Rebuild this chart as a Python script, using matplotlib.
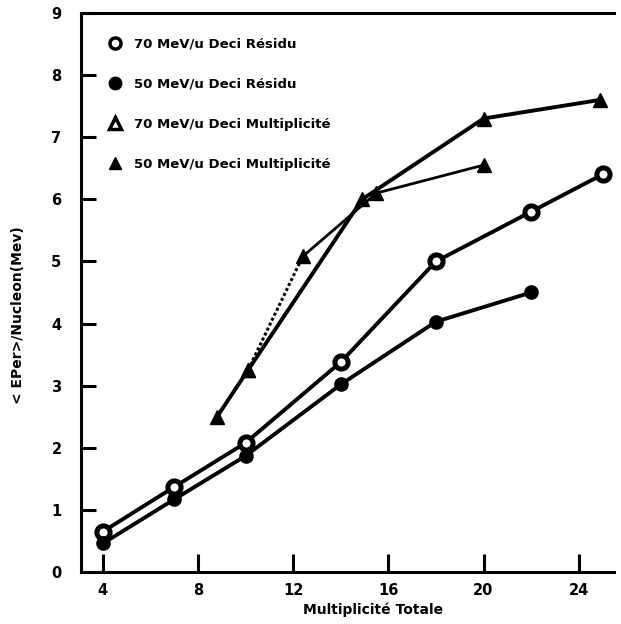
import matplotlib
matplotlib.use("Agg")
import matplotlib.pyplot as plt
from matplotlib.lines import Line2D

# Données
x_res70 = [4, 7, 10, 14, 18, 22, 25]
y_res70 = [0.65, 1.37, 2.08, 3.38, 5.0, 5.8, 6.4]

x_res50 = [4, 7, 10, 14, 18, 22]
y_res50 = [0.46, 1.17, 1.87, 3.02, 4.03, 4.5]

x_mul70 = [10.1, 12.4, 15.5, 20.0]
y_mul70 = [3.25, 5.08, 6.1, 6.55]

x_mul50 = [8.8, 10.1, 14.9, 20.0, 24.9]
y_mul50 = [2.5, 3.25, 6.0, 7.3, 7.6]

labels = ["70 MeV/u Deci Résidu", "50 MeV/u Deci Résidu",
          "70 MeV/u Deci Multiplicité", "50 MeV/u Deci Multiplicité"]
xticks = [4, 8, 12, 16, 20, 24]
yticks = [0, 1, 2, 3, 4, 5, 6, 7, 8, 9]

fig = plt.figure(figsize=(6.21, 6.24), dpi=100)
ax = fig.add_axes([0.1304, 0.0833, 0.859, 0.896])

# Courbes résidu
ax.plot(x_res70, y_res70, color="black", lw=2.8, marker="o", ms=9.5,
        mfc="white", mec="black", mew=3.6, zorder=3)
ax.plot(x_res50, y_res50, color="black", lw=2.8, marker="o", ms=9.5,
        mfc="black", mec="black", zorder=3)

# Courbes multiplicité
ax.plot(x_mul70[:2], y_mul70[:2], color="black", lw=2.2, ls=(0, (1, 0.8)), zorder=2)
ax.plot(x_mul70[1:], y_mul70[1:], color="black", lw=2.0, zorder=2)
ax.plot(x_mul70, y_mul70, ls="none", marker="^", ms=10, mfc="black", mec="black", zorder=3)
ax.plot(x_mul50, y_mul50, color="black", lw=2.8, marker="^", ms=10,
        mfc="black", mec="black", zorder=3)

ax.set_xlim(3.08, 25.5)
ax.set_ylim(0, 9)
ax.set_xticks(xticks)
ax.set_yticks(yticks)
ax.set_xticklabels([str(t) for t in xticks], fontsize=10.5, fontweight="heavy")
ax.set_yticklabels([str(t) for t in yticks], fontsize=10.5, fontweight="heavy")
ax.tick_params(axis="x", direction="in", length=13, width=2.2, pad=8)
ax.tick_params(axis="y", direction="in", length=11, width=2.2, pad=14)

for s in ["left", "bottom", "top"]:
    ax.spines[s].set_linewidth(2.2)
ax.spines["right"].set_visible(False)

ax.set_xlabel("Multiplicité Totale", fontsize=10, fontweight="heavy")
ax.xaxis.set_label_coords(0.548, -0.055)
ax.set_ylabel("< EPer>/Nucleon(Mev)", fontsize=10, fontweight="heavy")
ax.yaxis.set_label_coords(-0.105, 0.46)

handles = [
    Line2D([], [], ls="none", marker="o", ms=8, mfc="white", mec="black", mew=2.5),
    Line2D([], [], ls="none", marker="o", ms=9, mfc="black", mec="black"),
    Line2D([], [], ls="none", marker="^", ms=9, mfc="white", mec="black", mew=2.5),
    Line2D([], [], ls="none", marker="^", ms=9, mfc="black", mec="black"),
]
leg = ax.legend(handles, labels, loc="upper left", bbox_to_anchor=(0.03, 0.977),
                frameon=False, handlelength=1.0, handletextpad=0.9,
                labelspacing=2.05, prop={"size": 9.5, "weight": "heavy"})

fig.savefig("out.png", dpi=100)
